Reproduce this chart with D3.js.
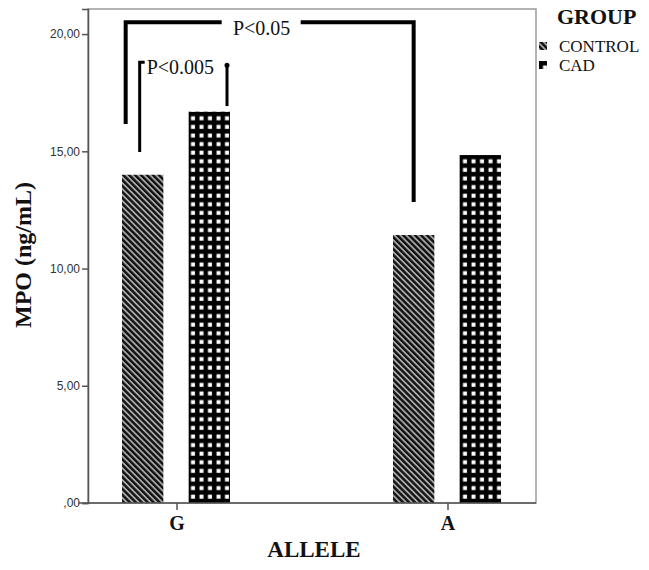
<!DOCTYPE html>
<html>
<head>
<meta charset="utf-8">
<script src="https://cdn.jsdelivr.net/npm/d3@7"></script>
<style>
body { margin: 0; background: #fff; }
</style>
</head>
<body>
<div id="chart"></div>
<script>
const width = 649
const height = 570

const alleles = ["G", "A"]
const groups = ["CONTROL", "CAD"]
const control_values = [14.0, 11.43]
const cad_values = [16.69, 14.84]
const tick_values = [0, 5, 10, 15, 20]
const tick_labels = [",00", "5,00", "10,00", "15,00", "20,00"]

// significance brackets: [x allele, group, y bottom] pairs
const sig_labels = ["P<0.05", "P<0.005"]
const sig_top = [20.51, 18.8]
const sig_left = [["G", "CONTROL", 16.16], ["G", "CONTROL", 14.97]]
const sig_right = [["A", "CONTROL", 12.84], ["G", "CAD", 16.93]]

const frame = {left: 88, right: 536, top: 9, bottom: 503}

const svg = d3.select("#chart")
    .append("svg")
    .attr("width", width)
    .attr("height", height)

const defs = svg.append("defs")
/* stripes for CONTROL */
const stripes = defs.append("pattern")
    .attr("id", "pat_control")
    .attr("patternUnits", "userSpaceOnUse")
    .attr("width", 4.2)
    .attr("height", 4.2)
    .attr("patternTransform", "rotate(-45)")
stripes.append("rect").attr("width", 4.2).attr("height", 4.2).attr("fill", "#a8a8a8")
stripes.append("rect").attr("width", 2.4).attr("height", 4.2).attr("fill", "#111")
/* grid of white squares for CAD */
const squares = defs.append("pattern")
    .attr("id", "pat_cad")
    .attr("patternUnits", "userSpaceOnUse")
    .attr("x", 1.5)
    .attr("y", 2)
    .attr("width", 8.5)
    .attr("height", 8.6)
squares.append("rect").attr("width", 8.5).attr("height", 8.6).attr("fill", "#000")
squares.append("rect").attr("x", 2.5).attr("y", 2.5).attr("width", 4).attr("height", 4).attr("fill", "#fff")

const fills = {CONTROL: "url(#pat_control)", CAD: "url(#pat_cad)"}

const x0 = d3.scalePoint()
    .domain(alleles)
    .range([frame.left, frame.right])
    .padding(0.3266)

const x1 = d3.scaleBand()
    .domain(groups)
    .range([-54.5, 53.5])
    .paddingInner(0.38)

const y = d3.scaleLinear()
    .domain([0, 21.07])
    .range([frame.bottom, frame.top])

const rows = []
alleles.forEach((a, i) => {
    rows.push({allele: a, group: "CONTROL", value: control_values[i]})
    rows.push({allele: a, group: "CAD", value: cad_values[i]})
})

/* frame */
svg.append("rect")
    .attr("x", frame.left)
    .attr("y", frame.top)
    .attr("width", frame.right - frame.left)
    .attr("height", frame.bottom - frame.top)
    .attr("fill", "none")
    .attr("stroke", "#9a9a9a")
    .attr("stroke-width", 1.5)

/* bars */
svg.selectAll(".bar")
    .data(rows)
    .enter()
    .append("rect")
    .attr("class", "bar")
    .attr("x", d => x0(d.allele) + x1(d.group))
    .attr("y", d => y(d.value))
    .attr("width", x1.bandwidth())
    .attr("height", d => y(0) - y(d.value))
    .attr("fill", d => fills[d.group])

/* y axis */
const yAxis = svg.append("g")
    .attr("transform", `translate(${frame.left},0)`)
    .call(d3.axisLeft(y)
        .tickValues(tick_values)
        .tickFormat((d, i) => tick_labels[i])
        .tickSize(6)
        .tickPadding(2))
yAxis.select(".domain").attr("stroke", "#555").attr("stroke-width", 1.5)
yAxis.selectAll(".tick line").attr("stroke", "#555").attr("stroke-width", 1.5)
yAxis.selectAll(".tick text")
    .attr("font-family", "Liberation Sans, Arial, sans-serif")
    .attr("font-size", 12)
    .attr("fill", "#333")

/* x axis */
const xAxis = svg.append("g")
    .attr("transform", `translate(0,${frame.bottom})`)
    .call(d3.axisBottom(x0).tickSize(7).tickPadding(6))
xAxis.select(".domain")
    .attr("d", `M${frame.left - 10},0H${frame.right}`)
    .attr("stroke", "#555")
    .attr("stroke-width", 1.5)
xAxis.selectAll(".tick line").attr("stroke", "#555").attr("stroke-width", 1.5)
xAxis.selectAll(".tick text")
    .attr("font-family", "Liberation Serif, Times New Roman, serif")
    .attr("font-weight", "bold")
    .attr("font-size", 20)
    .attr("fill", "#111")

/* axis titles */
svg.append("text")
    .attr("x", (frame.left + frame.right) / 2 + 2)
    .attr("y", 557)
    .attr("text-anchor", "middle")
    .attr("font-family", "Liberation Serif, Times New Roman, serif")
    .attr("font-weight", "bold")
    .attr("font-size", 23)
    .attr("fill", "#111")
    .text("ALLELE")
svg.append("text")
    .attr("transform", `translate(31,${(frame.top + frame.bottom) / 2 - 1}) rotate(-90)`)
    .attr("text-anchor", "middle")
    .attr("font-family", "Liberation Serif, Times New Roman, serif")
    .attr("font-weight", "bold")
    .attr("font-size", 24)
    .attr("fill", "#111")
    .text("MPO (ng/mL)")

/* legend */
svg.append("text")
    .attr("x", 557)
    .attr("y", 24)
    .attr("font-family", "Liberation Serif, Times New Roman, serif")
    .attr("font-weight", "bold")
    .attr("font-size", 22)
    .attr("fill", "#111")
    .text("GROUP")
const legend = svg.selectAll(".legend")
    .data(groups)
    .enter()
    .append("g")
    .attr("class", "legend")
    .attr("transform", (_, i) => `translate(539,${42 + 19 * i})`)
legend.append("rect")
    .attr("width", 8)
    .attr("height", 8)
    .attr("fill", d => fills[d])
legend.append("text")
    .attr("x", 20)
    .attr("y", 10)
    .attr("font-family", "Liberation Serif, Times New Roman, serif")
    .attr("font-size", 17)
    .attr("fill", "#111")
    .text(d => d)

/* significance brackets */
const cx = (a, g) => x0(a) + x1(g) + x1.bandwidth() / 2
const big_l = cx(sig_left[0][0], sig_left[0][1]) - 17
const big_r = cx(sig_right[0][0], sig_right[0][1])
const big_t = y(sig_top[0])
const line_w = 4

svg.append("path")
    .attr("d", `M${big_l},${y(sig_left[0][2])}V${big_t}H${big_l + 96}`)
    .attr("fill", "none")
    .attr("stroke", "#000")
    .attr("stroke-width", line_w)
svg.append("path")
    .attr("d", `M${big_r - 113},${big_t}H${big_r}V${y(sig_right[0][2])}`)
    .attr("fill", "none")
    .attr("stroke", "#000")
    .attr("stroke-width", line_w)
svg.append("text")
    .attr("x", (big_l + big_r) / 2 - 8)
    .attr("y", big_t + 13)
    .attr("text-anchor", "middle")
    .attr("font-family", "Liberation Serif, Times New Roman, serif")
    .attr("font-size", 20)
    .attr("fill", "#111")
    .text(sig_labels[0])

const sm_l = cx(sig_left[1][0], sig_left[1][1]) - 3
const sm_r = x0(sig_right[1][0]) + x1(sig_right[1][1]) + x1.bandwidth() - 3
const sm_t = y(sig_top[1])
svg.append("path")
    .attr("d", `M${sm_l},${y(sig_left[1][2])}V${sm_t}H${sm_l + 5}`)
    .attr("fill", "none")
    .attr("stroke", "#000")
    .attr("stroke-width", 3)
svg.append("path")
    .attr("d", `M${sm_r},${sm_t + 3}V${y(sig_right[1][2])}`)
    .attr("fill", "none")
    .attr("stroke", "#000")
    .attr("stroke-width", 3)
svg.append("circle")
    .attr("cx", sm_r)
    .attr("cy", sm_t + 3)
    .attr("r", 2.5)
    .attr("fill", "#000")
svg.append("text")
    .attr("x", sm_l + 7)
    .attr("y", sm_t + 12)
    .attr("font-family", "Liberation Serif, Times New Roman, serif")
    .attr("font-size", 20)
    .attr("fill", "#111")
    .text(sig_labels[1])
</script>
</body>
</html>
